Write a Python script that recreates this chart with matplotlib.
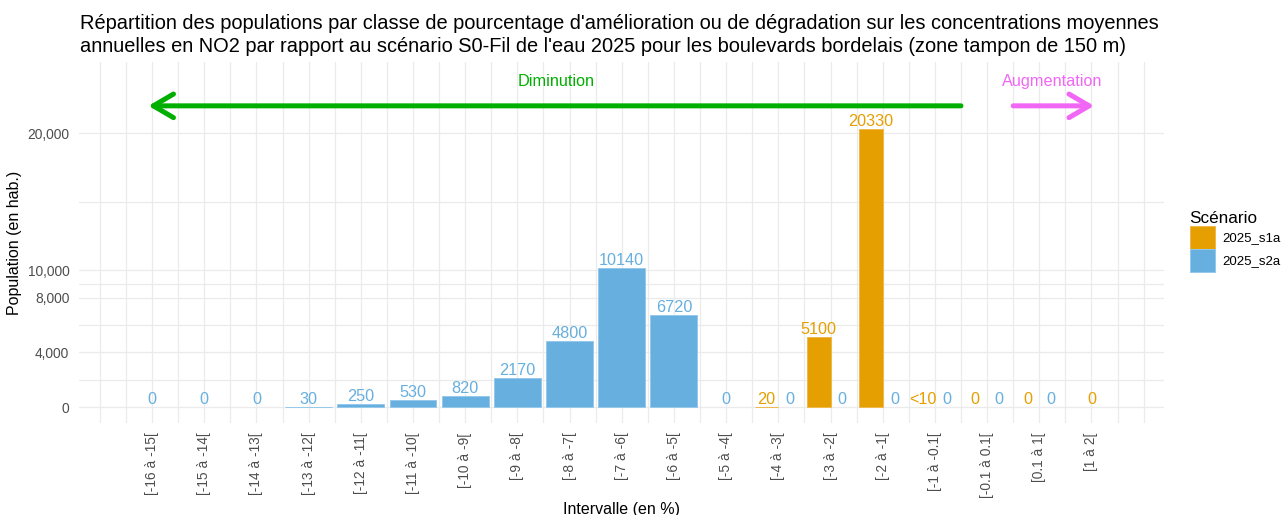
import numpy as np
import matplotlib
matplotlib.use("Agg")
import matplotlib.pyplot as plt
from matplotlib.patches import Patch

plt.rcParams['font.family'] = ['Liberation Sans', 'DejaVu Sans']

# Classes of change (%)
categories = ["[-16 à -15[", "[-15 à -14[", "[-14 à -13[", "[-13 à -12[", "[-12 à -11[",
              "[-11 à -10[", "[-10 à -9[", "[-9 à -8[", "[-8 à -7[", "[-7 à -6[",
              "[-6 à -5[", "[-5 à -4[", "[-4 à -3[", "[-3 à -2[", "[-2 à -1[",
              "[-1 à -0.1[", "[-0.1 à 0.1[", "[0.1 à 1[", "[1 à 2["]

# Population per class for each scenario (None = class absent for that scenario)
s1a_values = [None, None, None, None, None, None, None, None, None, None,
              None, None, 20, 5100, 20330, 5, 0, 0, 0]
s1a_labels = [None, None, None, None, None, None, None, None, None, None,
              None, None, "20", "5100", "20330", "<10", "0", "0", "0"]
s2a_values = [0, 0, 0, 30, 250, 530, 820, 2170, 4800, 10140,
              6720, 0, 0, 0, 0, 0, 0, 0, None]
s2a_labels = ["0", "0", "0", "30", "250", "530", "820", "2170", "4800", "10140",
              "6720", "0", "0", "0", "0", "0", "0", "0", None]

series_names = ["2025_s1a", "2025_s2a"]
series_colors = ["#E69F00", "#67AFDE"]
edge_colors = ["#EDB94D", "#95C8EA"]

y_major = [0, 4000, 8000, 10000, 20000]
y_minor = [2000, 6000, 9000, 15000]

fig = plt.figure(figsize=(12.84, 5.15), dpi=100)
ax = fig.add_axes([79 / 1284, 1 - 423 / 515, (1164 - 79) / 1284, (423 - 62) / 515])

positions = np.arange(1, len(categories) + 1)
full_w = 0.9
series = [(s1a_values, s1a_labels), (s2a_values, s2a_labels)]

for i, pos in enumerate(positions):
    present = [k for k, (vals, _) in enumerate(series) if vals[i] is not None]
    n = len(present)
    w = full_w / n
    for j, k in enumerate(present):
        vals, labs = series[k]
        xc = pos - full_w / 2 + w * (j + 0.5)
        ax.bar(xc, vals[i], width=w, color=series_colors[k],
               edgecolor=edge_colors[k], linewidth=0.7 if vals[i] >= 10 else 0,
               zorder=2)
        ax.text(xc, vals[i], labs[i], ha="center", va="bottom",
                fontsize=11.7, color=series_colors[k], zorder=3)

# Direction arrows
green = "#00AF00"
pink = "#F266F5"
ax.annotate("", xy=(0.93, 22000), xytext=(16.5, 22000),
            arrowprops=dict(arrowstyle="->,head_length=1.45,head_width=0.85",
                            lw=3.6, color=green, mutation_scale=10,
                            shrinkA=0, shrinkB=0), zorder=4)
ax.annotate("", xy=(19.05, 22000), xytext=(17.5, 22000),
            arrowprops=dict(arrowstyle="->,head_length=1.45,head_width=0.85",
                            lw=3.6, color=pink, mutation_scale=10,
                            shrinkA=0, shrinkB=0), zorder=4)
ax.text(8.75, 23800, "Diminution", ha="center", va="center", fontsize=11.7, color=green)
ax.text(18.25, 23800, "Augmentation", ha="center", va="center", fontsize=11.7, color=pink)

ax.set_xlim(-0.40, 20.39)
ax.set_ylim(-1150, 25200)

ax.set_xticks(positions)
ax.set_xticklabels(categories, rotation=90, va="top", ha="center")
ax.set_xticks(np.arange(0, 20.5, 0.5), minor=True)
ax.set_yticks(y_major)
ax.set_yticklabels([f"{v:,}" for v in y_major])
ax.set_yticks(y_minor, minor=True)

ax.tick_params(axis="both", which="both", length=0, colors="#4D4D4D", labelsize=9.9)
ax.tick_params(axis="y", pad=7)
ax.tick_params(axis="x", pad=7)
ax.grid(True, which="both", color="#EBEBEB", linewidth=0.9, zorder=0)
ax.set_axisbelow(True)
for s in ax.spines.values():
    s.set_visible(False)

ax.set_xlabel("Intervalle (en %)", fontsize=11.5, color="black", labelpad=3)
ax.set_ylabel("Population (en hab.)", fontsize=11.5, color="black", labelpad=4)

fig.text(80 / 1284, 1 - 14 / 515,
         "Répartition des populations par classe de pourcentage d'amélioration ou de dégradation sur les concentrations moyennes\n"
         "annuelles en NO2 par rapport au scénario S0-Fil de l'eau 2025 pour les boulevards bordelais (zone tampon de 150 m)",
         ha="left", va="top", fontsize=14.4, color="black", linespacing=1.3)

handles = [Patch(facecolor=c, edgecolor=e, linewidth=0.7) for c, e in zip(series_colors, edge_colors)]
fig.legend(handles, series_names, title="Scénario", loc="upper left",
           bbox_to_anchor=(1183 / 1284, 1 - 204 / 515), frameon=False, borderpad=0,
           fontsize=9.5, title_fontsize=12.3, handlelength=1.9, handleheight=2.3,
           labelspacing=0.0, handletextpad=0.6, alignment="left")

fig.savefig("out.png", dpi=100)
